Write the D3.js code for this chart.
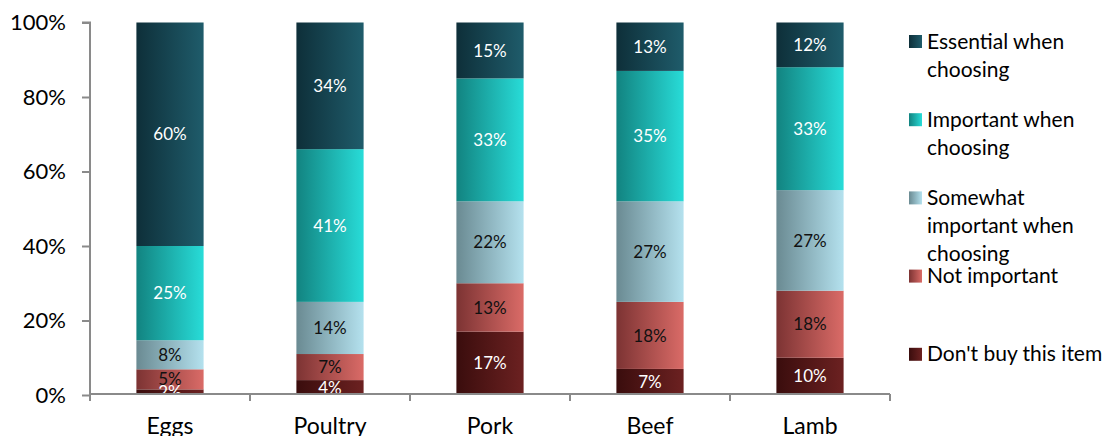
<!DOCTYPE html>
<html>
<head>
<meta charset="utf-8">
<script src="https://cdn.jsdelivr.net/npm/d3@7"></script>
<style>
  body { margin: 0; background: #fff; }
  text { font-family: Lato, "Noto Sans", sans-serif; }
</style>
</head>
<body>
<svg id="chart" width="1104" height="436"></svg>
<script>
// categories along the x axis
const categories = ['Eggs', 'Poultry', 'Pork', 'Beef', 'Lamb'];

// series, bottom of the stack first
const seriesKeys = ['dontBuy', 'notImportant', 'somewhat', 'important', 'essential'];
const legendLines = {
  essential: ['Essential when', 'choosing'],
  important: ['Important when', 'choosing'],
  somewhat: ['Somewhat', 'important when', 'choosing'],
  notImportant: ['Not important'],
  dontBuy: ["Don't buy this item"]
};

// percentages per category (same order as categories)
const dontBuy      = [1.5, 4, 17, 7, 10];
const notImportant = [5.4, 7, 13, 18, 18];
const somewhat     = [7.8, 14, 22, 27, 27];
const important    = [25.3, 41, 33, 35, 33];
const essential    = [60, 34, 15, 13, 12];

const yTicks = [0, 20, 40, 60, 80, 100];

// gradient stops (left -> right) and label colour per series
const gradients = {
  essential:    ['#0e2f39', '#1f5c6b'],
  important:    ['#128380', '#28dcd8'],
  somewhat:     ['#6a8a92', '#b4e1ee'],
  notImportant: ['#7c3333', '#da6b67'],
  dontBuy:      ['#3a0d0d', '#6c2121']
};
const labelColor = {
  essential: '#fff', important: '#fff', somewhat: '#111',
  notImportant: '#111', dontBuy: '#fff'
};

const seriesValues = { dontBuy, notImportant, somewhat, important, essential };
const table = categories.map((c, i) => {
  const row = { category: c };
  seriesKeys.forEach(k => row[k] = seriesValues[k][i]);
  return row;
});

const svg = d3.select('#chart');
const margin = { left: 90, right: 214, top: 22.5, bottom: 41 };
const width = 1104, height = 436;

const x = d3.scaleBand()
  .domain(categories)
  .range([margin.left, width - margin.right])
  .paddingInner(0.58)
  .paddingOuter(0.29);

const y = d3.scaleLinear()
  .domain([0, 100])
  .range([height - margin.bottom, margin.top]);

const stack = d3.stack().keys(seriesKeys)(table);

const defs = svg.append('defs');
seriesKeys.forEach(k => {
  const g = defs.append('linearGradient')
    .attr('id', 'grad-' + k)
    .attr('x1', 0).attr('x2', 1).attr('y1', 0).attr('y2', 0);
  g.append('stop').attr('offset', '0%').attr('stop-color', gradients[k][0]);
  g.append('stop').attr('offset', '100%').attr('stop-color', gradients[k][1]);
});
defs.append('clipPath').attr('id', 'plot-clip')
  .append('rect')
    .attr('x', margin.left)
    .attr('y', 0)
    .attr('width', width - margin.left - margin.right)
    .attr('height', y(0));

// bars
const layers = svg.append('g').attr('class', 'bars')
  .selectAll('g').data(stack).enter().append('g')
    .attr('fill', d => `url(#grad-${d.key})`);

layers.selectAll('rect')
  .data(d => d)
  .enter().append('rect')
    .attr('x', d => x(d.data.category))
    .attr('width', x.bandwidth())
    .attr('y', d => y(d[1]))
    .attr('height', d => y(d[0]) - y(d[1]));

// data labels
const labelG = svg.append('g').attr('clip-path', 'url(#plot-clip)');
stack.forEach(layer => {
  labelG.selectAll(null)
    .data(layer)
    .enter().append('text')
      .attr('x', d => x(d.data.category) + x.bandwidth() / 2)
      .attr('y', d => (y(d[0]) + y(d[1])) / 2)
      .attr('dy', '0.36em')
      .attr('text-anchor', 'middle')
      .attr('font-size', 17)
      .attr('fill', labelColor[layer.key])
      .text(d => Math.round(d.data[layer.key]) + '%');
});

// y axis
const axisColor = '#8a8a8a';
const yAxisG = svg.append('g')
  .attr('transform', `translate(${margin.left},0)`)
  .call(d3.axisLeft(y).tickValues(yTicks).tickFormat(d => d + '%').tickSize(8).tickPadding(16));
yAxisG.select('.domain').attr('stroke', axisColor).attr('stroke-width', 2)
  .attr('d', `M-8,${y(100)}H0V${y(0) - 1}`);
yAxisG.selectAll('.tick line').attr('stroke', axisColor).attr('stroke-width', 2);
yAxisG.selectAll('.tick text').attr('font-size', 22).attr('fill', '#000')
  .attr('font-family', 'Lato, sans-serif');

// x axis line with ticks between categories
const axisY = y(0) - 1;
const xAxisG = svg.append('g');
xAxisG.append('line')
  .attr('x1', margin.left).attr('x2', width - margin.right)
  .attr('y1', axisY).attr('y2', axisY)
  .attr('stroke', axisColor).attr('stroke-width', 2);
const bounds = d3.range(categories.length + 1).map(i => margin.left + i * (width - margin.left - margin.right) / categories.length);
xAxisG.selectAll('.xtick').data(bounds).enter().append('line')
  .attr('x1', d => d).attr('x2', d => d)
  .attr('y1', axisY).attr('y2', axisY + 7)
  .attr('stroke', axisColor).attr('stroke-width', 2);
xAxisG.selectAll('.xlabel').data(categories).enter().append('text')
  .attr('x', d => x(d) + x.bandwidth() / 2)
  .attr('y', 434)
  .attr('text-anchor', 'middle')
  .attr('font-size', 23)
  .attr('fill', '#000')
  .text(d => d);

// legend, top item is the top of the stack
const legendKeys = seriesKeys.slice().reverse();
const legend = svg.append('g').attr('class', 'legend');
const items = legend.selectAll('g').data(legendKeys).enter().append('g')
  .attr('transform', (d, i) => `translate(909,${41 + i * 78.2})`);
items.append('rect')
  .attr('x', 0).attr('y', -6).attr('width', 13).attr('height', 13)
  .attr('fill', d => `url(#grad-${d})`);
items.each(function(k) {
  const t = d3.select(this).append('text')
    .attr('x', 18)
    .attr('font-size', 21)
    .attr('fill', '#000');
  legendLines[k].forEach((line, j) => {
    t.append('tspan').attr('x', 18).attr('y', j * 28).attr('dy', '0.36em').text(line);
  });
});
</script>
</body>
</html>
